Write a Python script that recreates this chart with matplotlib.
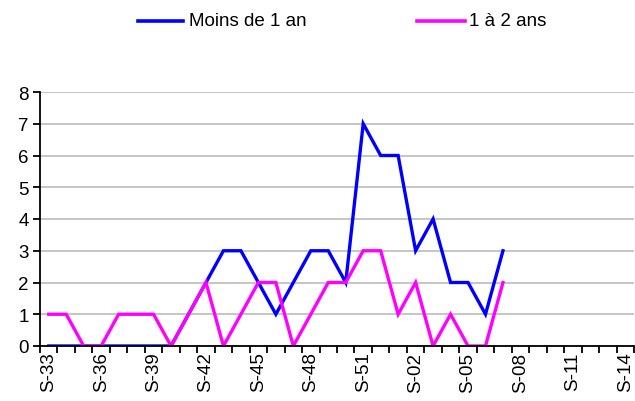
import matplotlib
matplotlib.use("Agg")
import matplotlib.pyplot as plt
from matplotlib.lines import Line2D
import numpy as np

plt.rcParams['font.family'] = ['Liberation Sans', 'DejaVu Sans']

weeks = [f"S-{w}" for w in range(33, 53)] + [f"S-{w:02d}" for w in range(1, 15)]
moins_1an = [0, 0, 0, 0, 0, 0, 0, 0, 1, 2, 3, 3, 2, 1, 2, 3, 3, 2, 7, 6, 6, 3, 4, 2, 2, 1, 3]
un_a_2ans = [1, 1, 0, 0, 1, 1, 1, 0, 1, 2, 0, 1, 2, 2, 0, 1, 2, 2, 3, 3, 1, 2, 0, 1, 0, 0, 2]
series_names = ['Moins de 1 an', '1 à 2 ans']
yticks = list(range(0, 9))

W, H = 635, 402
fig = plt.figure(figsize=(W / 100, H / 100), dpi=100)
ax = fig.add_axes([40/W, 1-347/H, 594/W, (347-93)/H])

x = np.arange(len(weeks))
ax.plot(x[:len(moins_1an)], moins_1an, color='#0000ff', lw=2.4, solid_joinstyle='miter')
ax.plot(x[:len(un_a_2ans)], un_a_2ans, color='#ff00ff', lw=2.4, solid_joinstyle='miter')

ax.set_xlim(-0.5, len(weeks) - 0.5)
ax.set_ylim(0, 8)
ax.set_yticks(yticks)
ax.yaxis.grid(True, color='#c0c0c0', lw=1.3)
ax.set_axisbelow(True)

ax.set_xticks(x[::3])
ax.set_xticklabels(weeks[::3], rotation=90)
ax.set_xticks(np.arange(-0.5, len(weeks), 1), minor=True)
ax.tick_params(axis='x', which='major', length=0, pad=4, labelsize=13.5)
ax.tick_params(axis='x', which='minor', length=5, width=1.3, direction='out')
ax.tick_params(axis='y', length=5, width=1.3, labelsize=13.5, pad=3)

for s in ['top', 'right']:
    ax.spines[s].set_visible(False)
for s in ['left', 'bottom']:
    ax.spines[s].set_linewidth(1.3)

# legend drawn manually to match positions
ly = 1 - 22 / H
for (x0, x1, tx), name, col in zip([(138, 183, 189), (417, 465, 469)], series_names, ['#0000ff', '#ff00ff']):
    fig.add_artist(Line2D([x0 / W, x1 / W], [ly, ly], color=col, lw=2.6, transform=fig.transFigure))
    fig.text(tx / W, ly, name, va='center', ha='left', fontsize=13.5)

fig.savefig('out.png', dpi=100)
